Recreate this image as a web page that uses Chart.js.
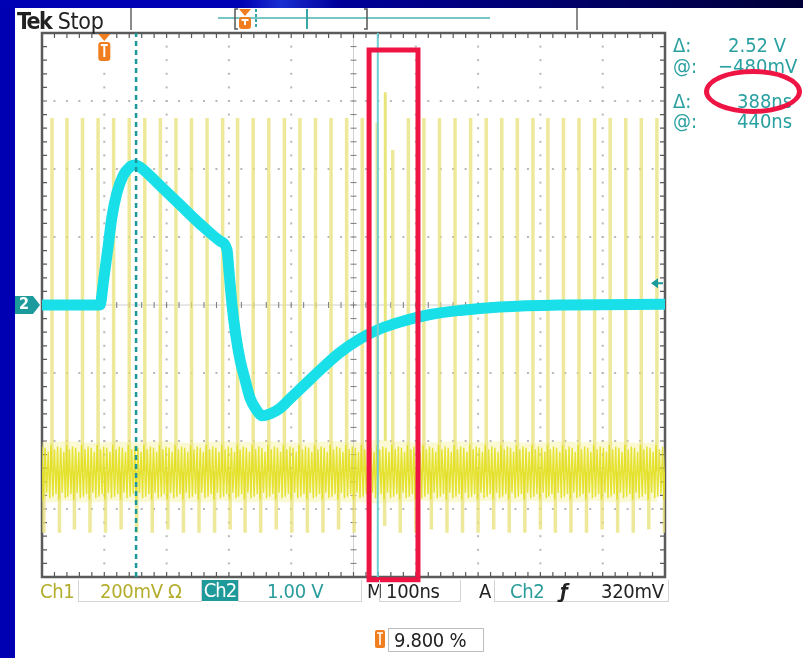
<!DOCTYPE html>
<html>
<head>
<meta charset="UTF-8">
<title>Tek Stop</title>
<style>
  html, body { margin: 0; padding: 0; }
  body { width: 803px; height: 658px; position: relative; overflow: hidden; background: #0000b2;
         font-family: "Liberation Sans Narrow", "DejaVu Sans Condensed", "Liberation Sans", sans-serif; font-stretch: condensed; }
  #topstrip { position: absolute; left: 0; top: 0; width: 803px; height: 8px;
              background: linear-gradient(90deg, #0000b4 0%, #0000b4 30%, #1a2fd0 35%, #00009a 42%, #00006a 70%, #000038 100%); }
  #panel { position: absolute; left: 15px; top: 8px; width: 788px; height: 650px; background: #fff; }
  #wrap { position: absolute; left: 0; top: 0; width: 803px; height: 658px; }
  .t { position: absolute; white-space: nowrap; line-height: 20px; height: 20px; font-size: 20px; letter-spacing: -0.3px; }
  .box { position: absolute; border: 1px solid #d4d4d4; border-top: none; height: 21px; top: 580px; }
  .teal { color: #2a9c9c; }
  .olive { color: #b4ad2c; }
  .dark { color: #222; }
  .rd { position: absolute; white-space: nowrap; font-size: 20px; line-height: 20px; color: #2aa0a0; }
  #ellipse { position: absolute; left: 704px; top: 69px; width: 88px; height: 35px;
             border: 5px solid #ee1444; border-radius: 50%; }
</style>
<script src="https://cdn.jsdelivr.net/npm/chart.js@4.4.1/dist/chart.umd.min.js"></script>
</head>
<body>
<div id="topstrip"></div>
<div id="panel"></div>
<div id="wrap"><canvas id="scope"></canvas></div>

<div class="t dark" style="left:17px;top:9px;font-size:23px;line-height:24px;height:24px;"><b style="letter-spacing:-1.5px">Tek</b> Stop</div>

<div class="rd" style="left:673px;top:35px;">&Delta;:</div>
<div class="rd" style="left:728px;top:35px;">2.52 V</div>
<div class="rd" style="left:673px;top:56px;">@:</div>
<div class="rd" style="left:718px;top:56px;">&minus;480mV</div>
<div class="rd" style="left:673px;top:91px;">&Delta;:</div>
<div class="rd" style="left:737px;top:91px;">388ns</div>
<div class="rd" style="left:673px;top:111px;">@:</div>
<div class="rd" style="left:737px;top:111px;">440ns</div>
<div id="ellipse"></div>

<div class="t" style="left:19px;top:294px;color:#fff;font-weight:bold;font-size:16px;">2</div>

<div class="t olive" style="left:40px;top:581px;">Ch1</div>
<div class="box" style="left:78px;width:122px;"></div>
<div class="t olive" style="left:100px;top:581px;">200mV &Omega;</div>
<div class="t" style="left:202px;top:580px;width:36px;height:21px;background:#1f9a9a;color:#fff;text-align:center;letter-spacing:-1px;">Ch2</div>
<div class="box" style="left:238px;width:122px;"></div>
<div class="t teal" style="left:267px;top:581px;">1.00 V</div>
<div class="t dark" style="left:367px;top:581px;">M</div>
<div class="box" style="left:379px;width:80px;"></div>
<div class="t dark" style="left:386px;top:581px;">100ns</div>
<div class="t dark" style="left:479px;top:581px;">A</div>
<div class="box" style="left:494px;width:173px;"></div>
<div class="t teal" style="left:510px;top:581px;">Ch2</div>
<div class="t dark" style="left:560px;top:581px;font-style:italic;font-weight:bold;">&fnof;</div>
<div class="t dark" style="left:601px;top:581px;">320mV</div>

<div style="position:absolute;left:388px;top:628px;width:94px;height:22px;border:1px solid #bdbdbd;"></div>
<div class="t dark" style="left:394px;top:630px;">9.800 %</div>

<script>
    // time axis in ns (100 ns/div), vertical axis in divisions (Ch2: 1.00 V/div)
    const divTimes = [-100, 0, 100, 200, 300, 400, 500, 600, 700, 800, 900];
    const divLevels = [-4, -3, -2, -1, 0, 1, 2, 3, 4];

    // Ch2 (cyan)
    const ch2Times = [-100, -7, -1, 6, 12, 20, 30, 41, 50, 60, 89, 122, 154, 186, 197, 200, 205, 211, 218, 226, 234, 244, 253, 266, 282, 298, 322, 346, 378, 410, 443, 475, 523, 571, 635, 731, 900];
    const ch2Volts = [0, 0, 0.37, 0.85, 1.28, 1.64, 1.9, 2.03, 2.06, 2.01, 1.76, 1.47, 1.19, 0.94, 0.81, 0.51, 0, -0.44, -0.81, -1.10, -1.37, -1.54, -1.63, -1.60, -1.52, -1.38, -1.17, -0.96, -0.70, -0.50, -0.35, -0.25, -0.14, -0.08, -0.03, 0, 0.01];

    // Ch1 (yellow): ringing spikes riding on a noisy band
    const ch1SpikeTimes = [-109, -84, -60, -35, -10, 15, 40, 65, 90, 115, 140, 165, 190, 214, 239, 264, 289, 314, 339, 364, 389, 414, 438, 463, 488, 513, 538, 563, 588, 613, 638, 663, 688, 712, 737, 762, 787, 812, 837, 862, 887];
    const ch1SpikeTops = [2.75, 2.75, 2.75, 2.75, 2.75, 2.75, 2.75, 2.75, 2.75, 2.75, 2.75, 2.75, 2.75, 2.75, 2.75, 2.75, 2.75, 2.75, 2.75, 2.75, 2.75, 2.75, 2.68, 2.28, 2.75, 2.75, 2.75, 2.75, 2.75, 2.75, 2.75, 2.75, 2.75, 2.75, 2.75, 2.75, 2.75, 2.75, 2.75, 2.75, 2.75];
    const ch1SpikeBottoms = [-3.35, -3.35, -3.3, -3.35, -3.35, -3.3, -3.35, -3.35, -3.3, -3.35, -3.35, -3.35, -3.3, -3.35, -3.35, -3.3, -3.35, -3.35, -3.35, -3.3, -3.35, -3.35, -3.25, -3.35, -3.35, -3.3, -3.35, -3.35, -3.35, -3.3, -3.35, -3.35, -3.3, -3.35, -3.35, -3.35, -3.3, -3.35, -3.35, -3.3, -3.35];
    const ch1BandHi = [-2.02, -2.02, -2.0, -2.02, -2.03, -2.0, -2.02, -2.02, -2.0, -2.02, -2.03, -2.02, -2.0, -2.02, -2.02, -2.0, -2.02, -2.03, -2.02, -2.0, -2.02, -2.02, -1.98, -2.0, -2.02, -2.03, -2.02, -2.0, -2.02, -2.02, -2.0, -2.02, -2.03, -2.02, -2.0, -2.02, -2.02, -2.0, -2.02, -2.03, -2.02];
    const ch1BandLo = [-2.9, -2.9, -2.88, -2.9, -2.9, -2.88, -2.9, -2.9, -2.88, -2.9, -2.9, -2.9, -2.88, -2.9, -2.9, -2.88, -2.9, -2.9, -2.9, -2.88, -2.9, -2.9, -2.92, -2.9, -2.9, -2.88, -2.9, -2.9, -2.9, -2.88, -2.9, -2.9, -2.88, -2.9, -2.9, -2.9, -2.88, -2.9, -2.9, -2.88, -2.9];
    const ch1DownDelay = 12; // ns from upward spike to downward spike
    const ch1Wiggle = [[1.5, -2.82], [4, -2.12], [6.5, -2.78], [9, -2.08], [11, -2.86], [14, -2.1], [16.5, -2.76], [19, -2.16], [21.5, -2.84], [23.5, -2.06]];
    const ch1ExtraTimes = [451];
    const ch1ExtraTops = [3.13];

    // cursors and the highlighted zone
    const cursorTimes = [51, 439];
    const triggerLevel = 0.32;
    const highlightTimes = [425, 503.5];
    const highlightLevels = [-4.04, 3.75];

    const spikePts = [];
    ch1SpikeTimes.forEach((t, i) => {
        spikePts.push({x: t, y: -2.45}, {x: t, y: ch1SpikeTops[i]}, {x: t, y: null});
        const td = t + ch1DownDelay;
        spikePts.push({x: td, y: -2.45}, {x: td, y: ch1SpikeBottoms[i]}, {x: td, y: null});
    });
    const extraPts = [];
    ch1ExtraTimes.forEach((t, i) => {
        extraPts.push({x: t, y: -2.0}, {x: t, y: ch1ExtraTops[i]}, {x: t, y: null});
    });
    const wigglePts = [];
    ch1SpikeTimes.forEach(t => {
        ch1Wiggle.forEach(([dt, v]) => wigglePts.push({x: t + dt, y: v}));
    });

    const graticule = {
        id: "graticule",
        beforeDatasetsDraw(chart) {
            const {ctx, chartArea: a, scales: {x, y}} = chart;
            ctx.save();
            const minorT = [], minorV = [];
            for (let i = 0; i < divTimes.length - 1; i++)
                for (let j = 0; j < 5; j++) minorT.push(divTimes[i] + (divTimes[i + 1] - divTimes[i]) * j / 5);
            for (let i = 0; i < divLevels.length - 1; i++)
                for (let j = 0; j < 5; j++) minorV.push(divLevels[i] + (divLevels[i + 1] - divLevels[i]) * j / 5);

            // dotted major lines
            ctx.fillStyle = "#b8b8b8";
            divTimes.slice(1, -1).forEach(t => {
                if (t === 400) return;
                const px = x.getPixelForValue(t);
                minorV.forEach(v => ctx.fillRect(px - 1, y.getPixelForValue(v) - 1, 2, 2));
            });
            divLevels.slice(1, -1).forEach(v => {
                if (v === 0) return;
                const py = y.getPixelForValue(v);
                minorT.forEach(t => ctx.fillRect(x.getPixelForValue(t) - 1, py - 1, 2, 2));
            });

            // centre cross with ticks
            const cx = x.getPixelForValue(400), cy = y.getPixelForValue(0);
            ctx.strokeStyle = "#cfcfcf";
            ctx.lineWidth = 1;
            ctx.beginPath();
            ctx.moveTo(cx, a.top); ctx.lineTo(cx, a.bottom);
            ctx.moveTo(a.left, cy); ctx.lineTo(a.right, cy);
            ctx.stroke();
            ctx.strokeStyle = "#7a7a7a";
            ctx.beginPath();
            minorT.forEach(t => { const px = x.getPixelForValue(t); ctx.moveTo(px, cy - 3); ctx.lineTo(px, cy + 3); });
            minorV.forEach(v => { const py = y.getPixelForValue(v); ctx.moveTo(cx - 3, py); ctx.lineTo(cx + 3, py); });
            ctx.stroke();

            // frame with edge ticks
            ctx.strokeStyle = "#5a5a5a";
            ctx.lineWidth = 1.2;
            ctx.beginPath();
            minorT.forEach(t => {
                const px = x.getPixelForValue(t);
                ctx.moveTo(px, a.top); ctx.lineTo(px, a.top + 5);
                ctx.moveTo(px, a.bottom); ctx.lineTo(px, a.bottom - 5);
            });
            minorV.forEach(v => {
                const py = y.getPixelForValue(v);
                ctx.moveTo(a.left, py); ctx.lineTo(a.left + 5, py);
                ctx.moveTo(a.right, py); ctx.lineTo(a.right - 5, py);
            });
            ctx.stroke();
            ctx.lineWidth = 2.5;
            ctx.strokeRect(a.left, a.top, a.right - a.left, a.bottom - a.top);
            ctx.restore();
        }
    };

    function trigIcon(ctx, px, top, h) {
        ctx.fillStyle = "#f07d1e";
        ctx.beginPath();
        ctx.moveTo(px - 6, top); ctx.lineTo(px + 6, top); ctx.lineTo(px, top + 7); ctx.closePath();
        ctx.fill();
        ctx.beginPath();
        ctx.roundRect(px - 6, top + 8, 12, h, 3);
        ctx.fill();
        ctx.strokeStyle = "#fff";
        ctx.lineWidth = 2;
        ctx.beginPath();
        ctx.moveTo(px - 3.5, top + 11); ctx.lineTo(px + 3.5, top + 11);
        ctx.moveTo(px, top + 11); ctx.lineTo(px, top + h + 4);
        ctx.stroke();
    }

    const overlays = {
        id: "overlays",
        afterDraw(chart) {
            const {ctx, chartArea: a, scales: {x, y}} = chart;
            ctx.save();
            // record bar at the top
            ctx.lineWidth = 2;
            ctx.strokeStyle = "#8a8a8a";
            ctx.beginPath();
            ctx.moveTo(131, 8); ctx.lineTo(131, 30);
            ctx.moveTo(577, 8); ctx.lineTo(577, 30);
            ctx.stroke();
            ctx.strokeStyle = "#76c6c6";
            ctx.beginPath(); ctx.moveTo(218, 18); ctx.lineTo(490, 18); ctx.stroke();
            ctx.strokeStyle = "#3aa7a7";
            ctx.beginPath(); ctx.moveTo(307, 9); ctx.lineTo(307, 29); ctx.stroke();
            ctx.setLineDash([3, 2]);
            ctx.beginPath(); ctx.moveTo(256, 9); ctx.lineTo(256, 29); ctx.stroke();
            ctx.setLineDash([]);
            ctx.strokeStyle = "#555";
            ctx.lineWidth = 1.5;
            ctx.beginPath();
            ctx.moveTo(238, 9); ctx.lineTo(235, 9); ctx.lineTo(235, 29); ctx.lineTo(238, 29);
            ctx.moveTo(364, 9); ctx.lineTo(367, 9); ctx.lineTo(367, 29); ctx.lineTo(364, 29);
            ctx.stroke();
            trigIcon(ctx, 245, 9, 12);

            // trigger position marker
            trigIcon(ctx, x.getPixelForValue(0), a.top + 1, 19);

            // Ch2 ground marker
            const gy = y.getPixelForValue(0);
            ctx.fillStyle = "#1c9a9c";
            ctx.beginPath();
            ctx.moveTo(15, gy - 9); ctx.lineTo(33, gy - 9); ctx.lineTo(40, gy); ctx.lineTo(33, gy + 9); ctx.lineTo(15, gy + 9);
            ctx.closePath(); ctx.fill();

            // trigger level arrow
            const ty = y.getPixelForValue(triggerLevel);
            ctx.fillStyle = "#1a9a9c";
            ctx.beginPath();
            ctx.moveTo(a.right - 14, ty); ctx.lineTo(a.right - 7, ty - 5); ctx.lineTo(a.right - 7, ty + 5);
            ctx.closePath(); ctx.fill();
            ctx.strokeStyle = "#1a9a9c";
            ctx.lineWidth = 2;
            ctx.beginPath(); ctx.moveTo(a.right - 8, ty); ctx.lineTo(a.right - 2, ty); ctx.stroke();

            // highlighted zone
            ctx.strokeStyle = "#ee1444";
            ctx.lineWidth = 5;
            const rx0 = x.getPixelForValue(highlightTimes[0]), rx1 = x.getPixelForValue(highlightTimes[1]);
            const ry0 = y.getPixelForValue(highlightLevels[1]), ry1 = y.getPixelForValue(highlightLevels[0]);
            ctx.strokeRect(rx0, ry0, rx1 - rx0, ry1 - ry0);

            // trigger position readout icon
            ctx.fillStyle = "#f07d1e";
            ctx.beginPath(); ctx.roundRect(375, 630, 10, 18, 2); ctx.fill();
            ctx.strokeStyle = "#fff";
            ctx.lineWidth = 1.6;
            ctx.beginPath();
            ctx.moveTo(377, 633); ctx.lineTo(383, 633);
            ctx.moveTo(380, 633); ctx.lineTo(380, 645);
            ctx.stroke();
            ctx.restore();
        }
    };

    const ctx = document.getElementById("scope").getContext("2d");
    const scope = new Chart(ctx, {
        type: "line",
        data: {
            datasets: [
                { label: "cursor b", data: [{x: cursorTimes[1], y: -4}, {x: cursorTimes[1], y: 4}], borderColor: "#6fd0d4", borderWidth: 2, pointRadius: 0 },
                { label: "cursor a", data: [{x: cursorTimes[0], y: -4}, {x: cursorTimes[0], y: 4}], borderColor: "#1c9898", borderWidth: 2.5, borderDash: [5, 4], pointRadius: 0 },
                { label: "Ch2", data: ch2Times.map((t, i) => ({x: t, y: ch2Volts[i]})), borderColor: "#18dfe8", borderWidth: 11,
                  pointRadius: 0, cubicInterpolationMode: "monotone", borderCapStyle: "round", borderJoinStyle: "round", clip: 0 },
                { label: "Ch1 extra", data: extraPts, borderColor: "#e9e57e", borderWidth: 3, pointRadius: 0 },
                { label: "Ch1 band", data: wigglePts, borderColor: "rgba(226, 222, 20, 0.85)", borderWidth: 1.4, pointRadius: 0 },
                { label: "Ch1 spikes", data: spikePts, borderColor: "rgba(232, 226, 120, 0.75)", borderWidth: 3.5, pointRadius: 0 },
                { label: "Ch1 band hi", data: ch1SpikeTimes.map((t, i) => ({x: t, y: ch1BandHi[i]})), borderWidth: 0, pointRadius: 0, fill: false },
                { label: "Ch1 band lo", data: ch1SpikeTimes.map((t, i) => ({x: t, y: ch1BandLo[i]})), borderWidth: 0, pointRadius: 0,
                  fill: "-1", backgroundColor: "rgba(238, 236, 110, 0.3)" },
            ],
        },
        options: {
            responsive: true,
            maintainAspectRatio: false,
            animation: false,
            layout: { padding: { left: 42, top: 33, right: 138, bottom: 81 } },
            scales: {
                x: { type: "linear", min: divTimes[0], max: divTimes[divTimes.length - 1], display: false },
                y: { type: "linear", min: divLevels[0], max: divLevels[divLevels.length - 1], display: false },
            },
            plugins: { legend: { display: false }, tooltip: { enabled: false } },
            events: [],
        },
        plugins: [graticule, overlays],
    });
</script>
</body>
</html>
